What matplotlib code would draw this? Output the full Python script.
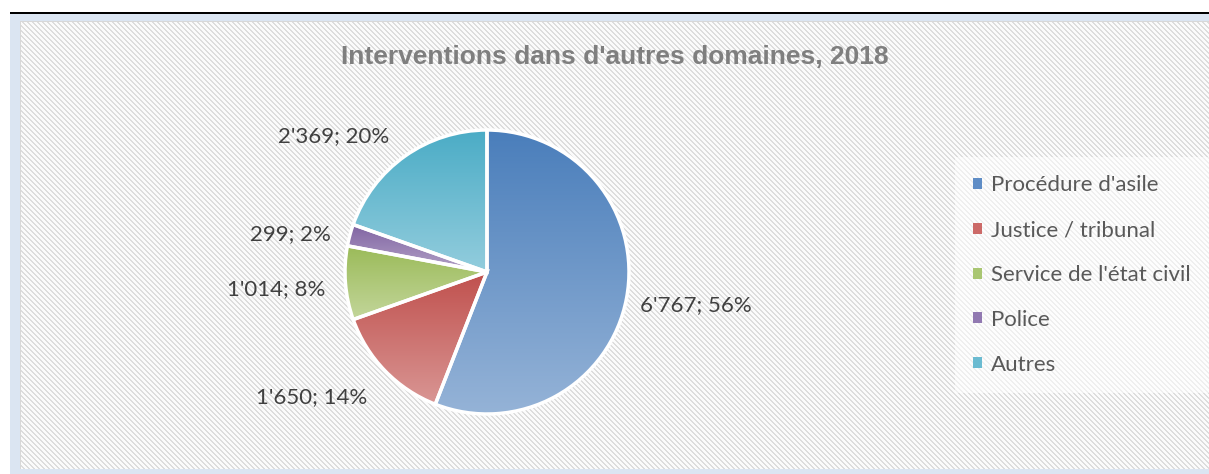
import numpy as np
import matplotlib
matplotlib.use("Agg")
import matplotlib.pyplot as plt
from matplotlib.patches import Patch

# ---- data ----
categories = ["Procédure d'asile", "Justice / tribunal", "Service de l'état civil", "Police", "Autres"]
values = [6767, 1650, 1014, 299, 2369]
title = "Interventions dans d'autres domaines, 2018"
top_colors = ["#4a7ebb", "#c0504d", "#9bbb59", "#8064a2", "#4bacc6"]
bottom_colors = ["#95b3d7", "#d99694", "#c3d69b", "#b3a2c7", "#93cddd"]
legend_colors = ["#5f8dc6", "#cc6a68", "#a9c672", "#9179b1", "#6bbbd1"]

W, H = 1209, 474
fig = plt.figure(figsize=(W / 100, H / 100), dpi=100)

# ---- background (hatched chart area with borders) ----
yy, xx = np.mgrid[0:H, 0:W]
img = np.ones((H, W, 3))
region = (xx >= 20) & (yy >= 21) & (yy < 469)
border = (xx >= 10) & (yy >= 14) & ~region
img[border] = [0.86, 0.90, 0.95]
img[(xx >= 10) & ((yy == 12) | (yy == 13))] = [0, 0, 0]
stripe = ((xx - yy) % 5) < 2
img[region] = [0.985, 0.985, 0.985]
img[region & stripe] = [0.87, 0.87, 0.87]
img[(xx >= 20) & (yy == 21)] = [0.85, 0.85, 0.85]
img[(xx == 20) & (yy >= 21) & (yy < 469)] = [0.85, 0.85, 0.85]
bg = fig.add_axes([0, 0, 1, 1], zorder=0)
bg.imshow(img, aspect="auto", interpolation="nearest")
bg.axis("off")

# ---- title ----
fig.text((20 + W) / 2 / W, 1 - 57 / H, title, ha="center", va="center",
         fontsize=19, fontweight="bold", color="#7f7f7f", family="Liberation Sans")

# ---- pie ----
r, cx, cy = 142, 487, 272
ax = fig.add_axes([(cx - r) / W, 1 - (cy + r) / H, 2 * r / W, 2 * r / H], zorder=1)
ax.patch.set_alpha(0)
wedges, _ = ax.pie(values, startangle=90, counterclock=False, radius=1,
                   wedgeprops=dict(edgecolor="white", linewidth=2.5))
for w, c0, c1 in zip(wedges, top_colors, bottom_colors):
    ext = w.get_path().get_extents()
    g = np.linspace(matplotlib.colors.to_rgb(c0), matplotlib.colors.to_rgb(c1), 256)[:, None, :]
    im = ax.imshow(g, extent=(ext.x0, ext.x1, ext.y0, ext.y1), origin="upper",
                   aspect="auto", interpolation="bilinear", zorder=0.5)
    im.set_clip_path(w)
    w.set_facecolor("none")
    w.set_zorder(2)
ax.set_xlim(-1, 1)
ax.set_ylim(-1, 1)
ax.axis("off")

total = sum(values)
for w, v in zip(wedges, values):
    ang = np.deg2rad((w.theta1 + w.theta2) / 2)
    c, s = np.cos(ang), np.sin(ang)
    ha = "left" if c > 0 else "right"
    if abs(s) < 0.5:
        va = "center"
        dist = 1.1 if c > 0 else 1.14
        x, y = dist * c, dist * s - 0.03
    else:
        va = "bottom" if s > 0 else "top"
        x, y = 1.12 * c - 0.04, 1.12 * s - 0.03
    lbl = f"{v:,}".replace(",", "'") + f"; {round(v / total * 100)}%"
    ax.text(x, y, lbl, ha=ha, va=va, fontsize=16, color="#404040", family="Lato")

# ---- legend ----
handles = [Patch(facecolor=col, edgecolor="none") for col in legend_colors]
leg = fig.legend(handles, categories, loc="upper left",
                 bbox_to_anchor=(955 / W, 1 - 157 / H), frameon=True,
                 prop=dict(family="Lato", size=16), labelcolor="#595959",
                 handlelength=0.38, handleheight=0.38, handletextpad=0.42,
                 labelspacing=1.12, borderpad=0.82, borderaxespad=0,
                 fancybox=False)
leg.get_frame().set_facecolor("white")
leg.get_frame().set_alpha(0.55)
leg.get_frame().set_edgecolor("none")
leg.set_zorder(3)

fig.savefig("out.png", dpi=100)
